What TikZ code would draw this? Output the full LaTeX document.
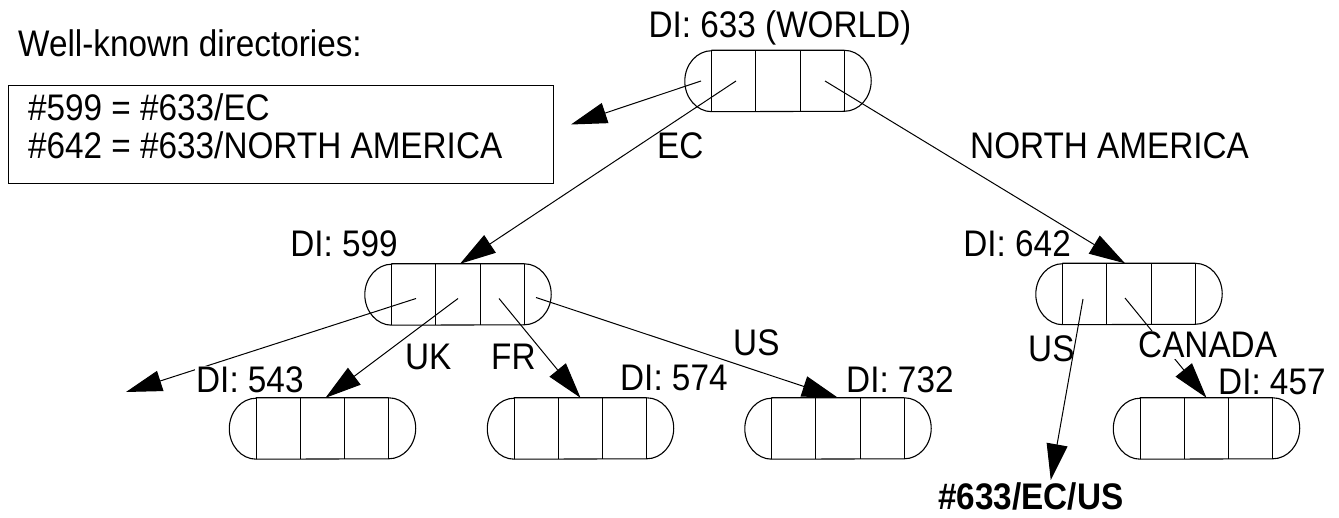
\documentclass[tikz,border=0pt]{standalone}
\usepackage{fontspec}
\setmainfont[FakeStretch=0.9]{Liberation Sans}
\usetikzlibrary{arrows.meta,calc}
\tikzset{
  dirnode/.style={minimum width=132pt, minimum height=61pt, inner sep=0pt, draw=none},
  lbl/.style={font=\fontsize{37}{44}\selectfont, inner sep=0pt},
  lblw/.style={lbl, fill=white, inner sep=1pt},
  conn/.style={line width=1pt, -{Triangle[length=36pt,width=21pt]}},
  outline/.style={line width=1.1pt},
}
\begin{document}
\begin{tikzpicture}[x=1pt,y=-1pt]
\path[use as bounding box, fill=white] (0,0) rectangle (1339,518);

% directory nodes
\node[dirnode] (w) at (778,81) {};
\node[dirnode] (a) at (458,294.5) {};
\node[dirnode] (b) at (1129,294) {};
\node[dirnode] (c) at (322.5,428.5) {};
\node[dirnode] (d) at (580.5,428.5) {};
\node[dirnode] (e) at (838,428.5) {};
\node[dirnode] (f) at (1206.5,428.5) {};

\foreach \n in {w,a,b,c,d,e,f}{
  \draw[outline] (\n.north west) -- (\n.north east)
     arc[start angle=90,end angle=-90,x radius=27pt,y radius=30.5pt]
     -- (\n.south west)
     arc[start angle=270,end angle=90,x radius=27pt,y radius=30.5pt] -- cycle;
  \draw[outline] (\n.north west) -- (\n.south west)
     ($(\n.north west)!1/3!(\n.north east)$) -- ($(\n.south west)!1/3!(\n.south east)$)
     ($(\n.north west)!2/3!(\n.north east)$) -- ($(\n.south west)!2/3!(\n.south east)$)
     (\n.north east) -- (\n.south east);
}

% well-known box
\node[draw, line width=1pt, minimum width=545pt, minimum height=98pt, anchor=north west, inner sep=0pt] (box) at (8,85) {};
\node[lbl, anchor=base west] (wk) at (18,57) {Well-known directories:};
\node[lbl, anchor=base west] (l1) at (28,121) {\#599 = \#633/EC};
\node[lbl, anchor=base west] (l2) at (28,159) {\#642 = \#633/NORTH AMERICA};

\coordinate (boxtip) at ([shift={(17,-10)}]box.east);
\coordinate (lefttip) at (126,392);

% target text
\node[lbl, anchor=base west, font=\fontsize{37}{44}\selectfont\bfseries] (us) at (938,509) {\#633/EC/US};

% connectors
\draw[conn] ([shift={(-77,0)}]w.center) -- (boxtip);
\draw[conn] ([shift={(-42,0)}]w.center) -- ([xshift=2pt]a.north);
\draw[conn] ([shift={(47,0)}]w.center) -- ([xshift=-4pt]b.north);

\draw[conn] ([shift={(-42,4)}]a.center) -- (lefttip);
\draw[conn] ([shift={(0,4)}]a.center) -- ([xshift=3pt]c.north);
\draw[conn] ([shift={(41,4)}]a.center) -- (d.north);
\draw[conn] ([shift={(78,3)}]a.center) -- (e.north);

\draw[conn] ([shift={(-46,5)}]b.center) -- ([shift={(20,-2)}]us.north);
\draw[conn] ([shift={(-4,4)}]b.center) -- (f.north);

% labels
\node[lbl, anchor=base] (tw) at (780,38) {DI: 633 (WORLD)};
\node[lbl, anchor=base west] (lec) at (657,159) {EC};
\node[lbl, anchor=base west] (lna) at (970,159) {NORTH AMERICA};
\node[lbl, anchor=base east] (ta) at (398,257) {DI: 599};
\node[lbl, anchor=base east] (tb) at (1071,257) {DI: 642};
\node[lblw, anchor=base west] (tc) at (195,393) {DI: 543};
\node[lbl, anchor=base west] (td) at (620,391) {DI: 574};
\node[lbl, anchor=base west] (te) at (846,393) {DI: 732};
\node[lbl, anchor=base west] (tf) at (1218,395) {DI: 457};
\node[lbl, anchor=base west] (luk) at (405,370) {UK};
\node[lbl, anchor=base west] (lfr) at (491,370) {FR};
\node[lbl, anchor=base west] (lus1) at (733,356) {US};
\node[lbl, anchor=base west] (lus2) at (1028,362) {US};
\node[lblw, anchor=base west] (lca) at (1137,358) {CANADA};
\end{tikzpicture}
\end{document}
